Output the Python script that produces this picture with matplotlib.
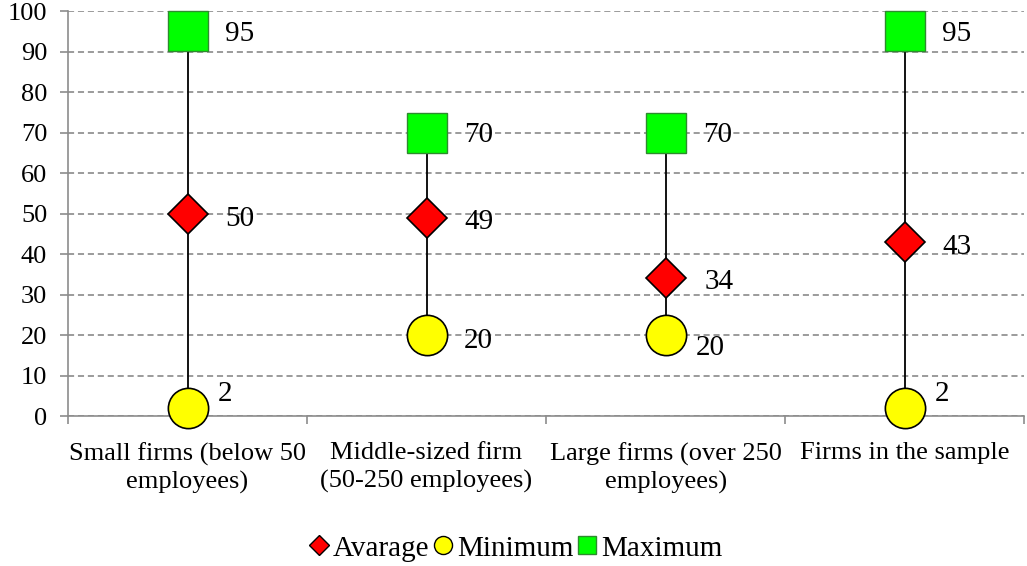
import numpy as np
import matplotlib.pyplot as plt
from matplotlib.lines import Line2D

plt.rcParams['font.family'] = ['Liberation Serif', 'DejaVu Serif']

categories = ["Small firms (below 50\nemployees)",
              "Middle-sized firm\n(50-250 employees)",
              "Large firms (over 250\nemployees)",
              "Firms in the sample"]
average = [50, 49, 34, 43]
minimum = [2, 20, 20, 2]
maximum = [95, 70, 70, 95]

# label offsets (points) for each value text, relative to the marker centre
avg_off = [(27, -4), (27, -3), (28, -3), (27, -4)]
min_off = [(22, 10), (27, -4), (22, -9), (22, 10)]
max_off = [(27, -2), (27, -2), (27, -2), (27, -2)]

fig = plt.figure(figsize=(10.27, 5.66), dpi=100)
ax = fig.add_axes([0.0662, 0.265, 0.931, 0.7155])

x = np.arange(len(categories))
ax.vlines(x, minimum, maximum, color='black', lw=1.3, zorder=2)
ax.plot(x, average, ls='none', marker='D', ms=20, mfc='#ff0000', mec='black',
        mew=1.2, zorder=3, clip_on=False)
ax.plot(x, minimum, ls='none', marker='o', ms=29, mfc='#ffff00', mec='black',
        mew=1.2, zorder=3, clip_on=False)
ax.plot(x, maximum, ls='none', marker='s', ms=29, mfc='#00ff00', mec='#2e8b2e',
        mew=1.0, zorder=3, clip_on=False)

for xs, vals, offs in [(x, average, avg_off), (x, minimum, min_off), (x, maximum, max_off)]:
    for xi, v, (dx, dy) in zip(xs, vals, offs):
        ax.annotate(str(v), (xi, v), xytext=(dx, dy), textcoords='offset points',
                    ha='left', va='center', fontsize=21, zorder=4)

ax.set_xlim(-0.5, 3.5)
ax.set_ylim(0, 100)
ax.set_yticks(range(0, 101, 10))
ax.yaxis.grid(True, ls=(0, (4, 2.5)), color='#808080', lw=1.1)
ax.set_axisbelow(True)

ax.set_xticks([-0.5, 0.5, 1.5, 2.5, 3.5])
ax.set_xticklabels([])
ax.set_xticks(x, minor=True)
ax.set_xticklabels(categories, minor=True, fontsize=19, linespacing=1.3)
ax.tick_params(axis='x', which='major', length=6, color='#8c8c8c', width=1.2)
ax.tick_params(axis='x', which='minor', length=0, pad=19)
ax.tick_params(axis='y', length=6, color='#8c8c8c', width=1.2, labelsize=19, pad=9)

for s in ['top', 'right']:
    ax.spines[s].set_visible(False)
for s in ['left', 'bottom']:
    ax.spines[s].set_color('#8c8c8c')
    ax.spines[s].set_linewidth(1.2)

handles = [
    Line2D([], [], ls='none', marker='D', ms=10, mfc='#ff0000', mec='black', mew=1),
    Line2D([], [], ls='none', marker='o', ms=13, mfc='#ffff00', mec='black', mew=1),
    Line2D([], [], ls='none', marker='s', ms=13, mfc='#00ff00', mec='#2e8b2e', mew=1),
]
fig.legend(handles, ['Avarage', 'Minimum', 'Maximum'], loc='center',
           bbox_to_anchor=(0.502, 0.031), ncol=3, frameon=False, fontsize=21,
           handlelength=0.7, handletextpad=0.15, columnspacing=0.1)

fig.savefig('out.png', dpi=100)
